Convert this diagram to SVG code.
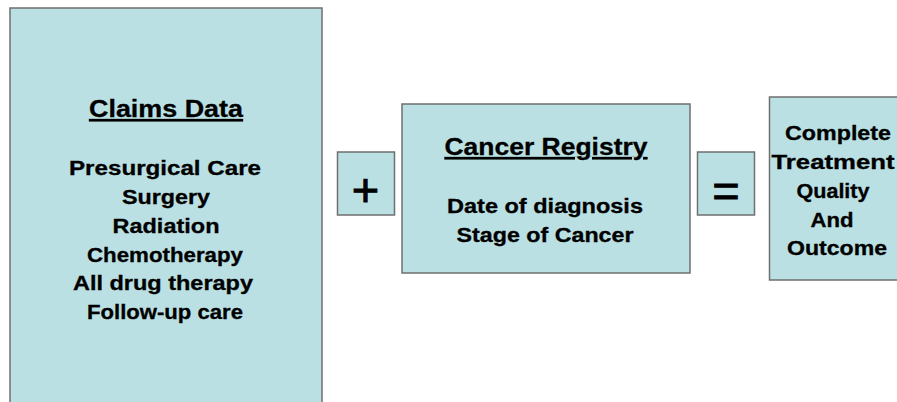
<svg xmlns="http://www.w3.org/2000/svg" width="897" height="402" viewBox="0 0 897 402">
<style>
.box{fill:#BAE0E3;stroke:#6F6F6F;stroke-width:1.5}
text{font-family:"Liberation Sans",Arial,sans-serif;font-weight:bold;fill:#000;text-anchor:middle;stroke:#000;stroke-width:0.3}
.h{font-size:24px;text-decoration:underline}
.b{font-size:20px}
.op{font-size:47px;font-weight:normal;stroke-width:0.9}
</style>
<rect width="897" height="402" fill="#ffffff"/>
<g id="claims">
<rect class="box" x="10" y="8" width="312" height="410"/>
<text class="h" x="166" y="117" textLength="154" lengthAdjust="spacingAndGlyphs">Claims Data</text>
<text class="b" x="165" y="175" textLength="192" lengthAdjust="spacingAndGlyphs">Presurgical Care</text>
<text class="b" x="166" y="204" textLength="88" lengthAdjust="spacingAndGlyphs">Surgery</text>
<text class="b" x="166" y="233" textLength="107" lengthAdjust="spacingAndGlyphs">Radiation</text>
<text class="b" x="165" y="262" textLength="156" lengthAdjust="spacingAndGlyphs">Chemotherapy</text>
<text class="b" x="163" y="290" textLength="180" lengthAdjust="spacingAndGlyphs">All drug therapy</text>
<text class="b" x="165" y="319" textLength="156" lengthAdjust="spacingAndGlyphs">Follow-up care</text>
</g>
<g id="plus">
<rect class="box" x="337.5" y="152" width="57" height="63"/>
<text class="op" x="365.5" y="206">+</text>
</g>
<g id="registry">
<rect class="box" x="402" y="104" width="288" height="169"/>
<text class="h" x="546" y="155" textLength="203" lengthAdjust="spacingAndGlyphs">Cancer Registry</text>
<text class="b" x="545" y="213" textLength="196" lengthAdjust="spacingAndGlyphs">Date of diagnosis</text>
<text class="b" x="545" y="242" textLength="177" lengthAdjust="spacingAndGlyphs">Stage of Cancer</text>
</g>
<g id="equals">
<rect class="box" x="697.5" y="152" width="57" height="63"/>
<text class="op" x="726" y="206.5">=</text>
</g>
<g id="result">
<rect class="box" x="769.5" y="97" width="140" height="183"/>
<text class="b" x="838" y="140" textLength="106" lengthAdjust="spacingAndGlyphs">Complete</text>
<text class="b" x="833" y="169" textLength="123" lengthAdjust="spacingAndGlyphs">Treatment</text>
<text class="b" x="833" y="198" textLength="73" lengthAdjust="spacingAndGlyphs">Quality</text>
<text class="b" x="832" y="227" textLength="43" lengthAdjust="spacingAndGlyphs">And</text>
<text class="b" x="837" y="255" textLength="100" lengthAdjust="spacingAndGlyphs">Outcome</text>
</g>
<g id="connectors"></g>
</svg>
